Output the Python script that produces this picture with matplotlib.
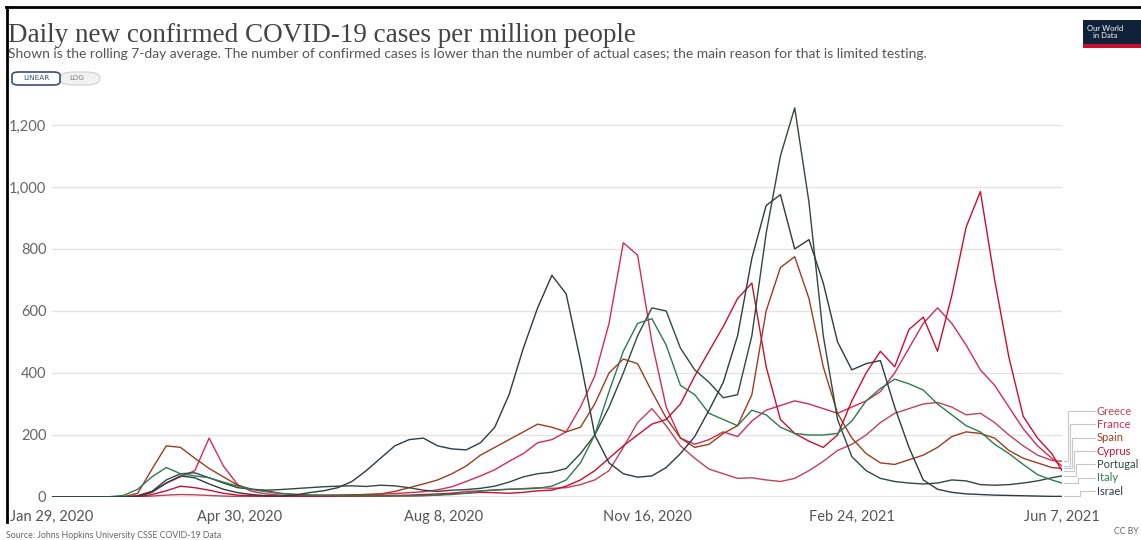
"""Daily new confirmed COVID-19 cases per million people (OWID style)."""

import matplotlib

matplotlib.use("Agg")

import matplotlib.pyplot as plt
import matplotlib.patches as mpatches
import pandas as pd

# weekly samples from Jan 29, 2020, plus the last day (Jun 7, 2021)
dates = list(pd.date_range("2020-01-29", periods=71, freq="7D")) + [pd.Timestamp("2021-06-07")]

countries = ["Greece", "France", "Spain", "Cyprus", "Portugal", "Italy", "Israel"]

greece = [0, 0, 0, 0, 0, 0, 0, 3, 6, 8, 7, 5, 3, 2, 1, 1, 1, 1, 1, 1,
          2, 2, 2, 2, 3, 3, 4, 6, 12, 18, 20, 22, 25, 27, 30, 28, 30, 40, 55, 85,
          160, 240, 285, 230, 165, 125, 90, 75, 60, 62, 55, 50, 60, 85, 115, 150, 170, 200, 240, 270,
          285, 300, 305, 290, 265, 270, 240, 200, 165, 135, 118, 115]
france = [0, 0, 0, 0, 0, 0, 5, 18, 45, 65, 85, 190, 100, 40, 18, 10, 6, 4, 5, 6,
          6, 7, 8, 9, 11, 14, 17, 23, 33, 50, 68, 88, 115, 140, 175, 185, 210, 290, 390, 560,
          820, 780, 500, 290, 190, 170, 185, 210, 195, 245, 280, 295, 310, 300, 285, 270, 290, 310, 340, 400,
          480, 560, 610, 560, 490, 410, 360, 290, 220, 165, 125, 100]
spain = [0, 0, 0, 0, 0, 1, 12, 90, 165, 160, 125, 92, 65, 38, 25, 20, 12, 8, 6, 5,
         6, 7, 8, 10, 18, 30, 42, 55, 75, 100, 135, 160, 185, 210, 235, 225, 210, 225, 300, 400,
         445, 430, 340, 255, 190, 160, 170, 205, 230, 330, 600, 740, 775, 640, 420, 270, 190, 140, 110, 105,
         120, 135, 160, 195, 210, 205, 190, 150, 125, 110, 95, 92]
cyprus = [0, 0, 0, 0, 0, 0, 0, 8, 20, 35, 30, 22, 12, 6, 4, 3, 2, 2, 2, 2,
          2, 3, 3, 4, 5, 6, 8, 10, 12, 12, 15, 14, 12, 15, 20, 22, 35, 55, 85, 125,
          165, 200, 235, 250, 300, 390, 470, 550, 640, 690, 420, 250, 205, 180, 160, 200, 310, 400, 470, 420,
          540, 580, 470, 650, 870, 985, 700, 450, 260, 190, 140, 85]
portugal = [0, 0, 0, 0, 0, 0, 2, 18, 55, 75, 78, 62, 45, 30, 25, 22, 24, 27, 30, 33,
            35, 36, 34, 38, 36, 30, 22, 18, 22, 24, 28, 35, 48, 65, 75, 80, 92, 140, 200, 290,
            400, 520, 610, 600, 480, 410, 370, 320, 330, 520, 850, 1100, 1255, 950, 520, 250, 130, 85, 60, 50,
            45, 42, 45, 55, 52, 40, 38, 40, 45, 52, 62, 68]
italy = [0, 0, 0, 0, 1, 5, 25, 65, 95, 75, 68, 62, 48, 35, 24, 17, 11, 9, 6, 5,
         4, 4, 4, 3, 4, 4, 5, 6, 8, 12, 19, 23, 25, 26, 28, 35, 55, 110, 200, 340,
         470, 560, 575, 490, 360, 330, 270, 250, 230, 280, 265, 225, 205, 200, 200, 205, 245, 310, 350, 380,
         365, 345, 300, 265, 230, 210, 170, 140, 105, 72, 55, 45]
israel = [0, 0, 0, 0, 0, 0, 2, 15, 45, 68, 62, 42, 25, 14, 8, 4, 3, 6, 14, 20,
          30, 50, 85, 125, 165, 185, 190, 165, 155, 152, 175, 225, 330, 480, 610, 715, 655, 440, 200, 110,
          75, 64, 68, 95, 140, 195, 280, 370, 520, 770, 940, 975, 800, 830, 690, 500, 410, 430, 440, 290,
          160, 55, 25, 15, 10, 8, 6, 5, 4, 3, 2, 2]

series = [greece, france, spain, cyprus, portugal, italy, israel]
colors = ["#c2405a", "#d42a5b", "#9c3d1e", "#c8102e", "#2f4a3c", "#2e7a52", "#2e3a44"]

y_ticks = [0, 200, 400, 600, 800, 1000, 1200]
x_ticks = ["2020-01-29", "2020-04-30", "2020-08-08", "2020-11-16", "2021-02-24", "2021-06-07"]
x_tick_labels = ["Jan 29, 2020", "Apr 30, 2020", "Aug 8, 2020", "Nov 16, 2020", "Feb 24, 2021", "Jun 7, 2021"]

W, H = 1141, 540
fig = plt.figure(figsize=(W / 100, H / 100), dpi=100)
fig.patch.set_facecolor("white")

ax = fig.add_axes([52 / W, (H - 497) / H, (1062 - 52) / W, 400 / H])
for name, values, color in zip(countries, series, colors, strict=True):
    ax.plot(dates, values, color=color, lw=1.0, solid_joinstyle="round")

start, end = pd.Timestamp(x_ticks[0]), pd.Timestamp(x_ticks[-1])
ax.set_xlim(start, end)
ax.set_ylim(0, 1290)
for spine in ax.spines.values():
    spine.set_visible(False)
ax.set_yticks(y_ticks)
ax.set_yticklabels([f"{v:,}" for v in y_ticks], fontsize=10.5, color="#666666", family="Lato")
ax.set_xticks([pd.Timestamp(d) for d in x_ticks])
ax.set_xticklabels(x_tick_labels, fontsize=10.5, color="#555555", family="Lato")
ax.tick_params(axis="both", length=0)
ax.tick_params(axis="y", pad=4)
ax.tick_params(axis="x", pad=9)
ax.yaxis.grid(True, color="#e3e3e3", lw=1)
ax.set_axisbelow(True)
ax.axhline(0, color="#9a9a9a", lw=1, zorder=1)

# entity labels at the right with elbow connectors
label_step = 43
for k, (name, values, color) in enumerate(zip(countries, series, colors, strict=True)):
    label_y = 19 + label_step * (len(countries) - 1 - k)
    mid = end + pd.Timedelta(days=3 + k)
    ax.plot([end + pd.Timedelta(days=1), mid, mid, end + pd.Timedelta(days=16)],
            [values[-1], values[-1], label_y, label_y],
            color="#c8c8c8", lw=0.8, clip_on=False)
    ax.text(end + pd.Timedelta(days=17), label_y, name, color=color, fontsize=8,
            family="Lato", va="center", ha="left", clip_on=False)

# header
fig.text(8 / W, 1 - 36 / H, "Daily new confirmed COVID-19 cases per million people",
         fontsize=19.5, family="Liberation Serif", color="#444444", va="center")
fig.text(8 / W, 1 - 54 / H,
         "Shown is the rolling 7-day average. The number of confirmed cases is lower than the number "
         "of actual cases; the main reason for that is limited testing.",
         fontsize=10, family="Lato", color="#555555", va="center")

# LINEAR / LOG toggle
fig.patches.append(mpatches.FancyBboxPatch((60 / W, 1 - 85 / H), 40 / W, 13 / H,
                                           boxstyle="round,pad=0,rounding_size=0.012",
                                           transform=fig.transFigure, fc="#f2f2f2", ec="#cfcfcf", lw=0.8))
fig.patches.append(mpatches.FancyBboxPatch((12 / W, 1 - 85 / H), 48 / W, 13 / H,
                                           boxstyle="round,pad=0,rounding_size=0.006",
                                           transform=fig.transFigure, fc="white", ec="#3b4d7a", lw=1.2))
fig.text(36 / W, 1 - 78.5 / H, "LINEAR", fontsize=5.2, family="DejaVu Sans", color="#3b4d7a",
         ha="center", va="center")
fig.text(77 / W, 1 - 78.5 / H, "LOG", fontsize=5.2, family="DejaVu Sans", color="#777777",
         ha="center", va="center")

# logo
fig.patches.append(mpatches.Rectangle((1083 / W, 1 - 48 / H), 60 / W, 28 / H,
                                      transform=fig.transFigure, fc="#10213a", ec="none"))
fig.patches.append(mpatches.Rectangle((1083 / W, 1 - 48 / H), 60 / W, 4 / H,
                                      transform=fig.transFigure, fc="#c8102e", ec="none"))
fig.text(1087 / W, 1 - 32 / H, "Our World\n   in Data", fontsize=5.5, family="Lato",
         color="white", va="center", ha="left", linespacing=1.0)

# footer
fig.text(6 / W, 1 - 535 / H, "Source: Johns Hopkins University CSSE COVID-19 Data",
         fontsize=6.3, family="Lato", color="#666666", va="center")
fig.text(1139 / W, 1 - 532 / H, "CC BY", fontsize=6.3, family="Lato", color="#666666",
         va="center", ha="right")

# frame of the screenshot
fig.add_artist(plt.Line2D([6 / W, 1], [1 - 7 / H, 1 - 7 / H], color="black", lw=2,
                          transform=fig.transFigure))
fig.add_artist(plt.Line2D([7 / W, 7 / W], [1 - 7 / H, 1 - 522 / H], color="black", lw=2,
                          transform=fig.transFigure))

fig.savefig("out.png", dpi=100)
